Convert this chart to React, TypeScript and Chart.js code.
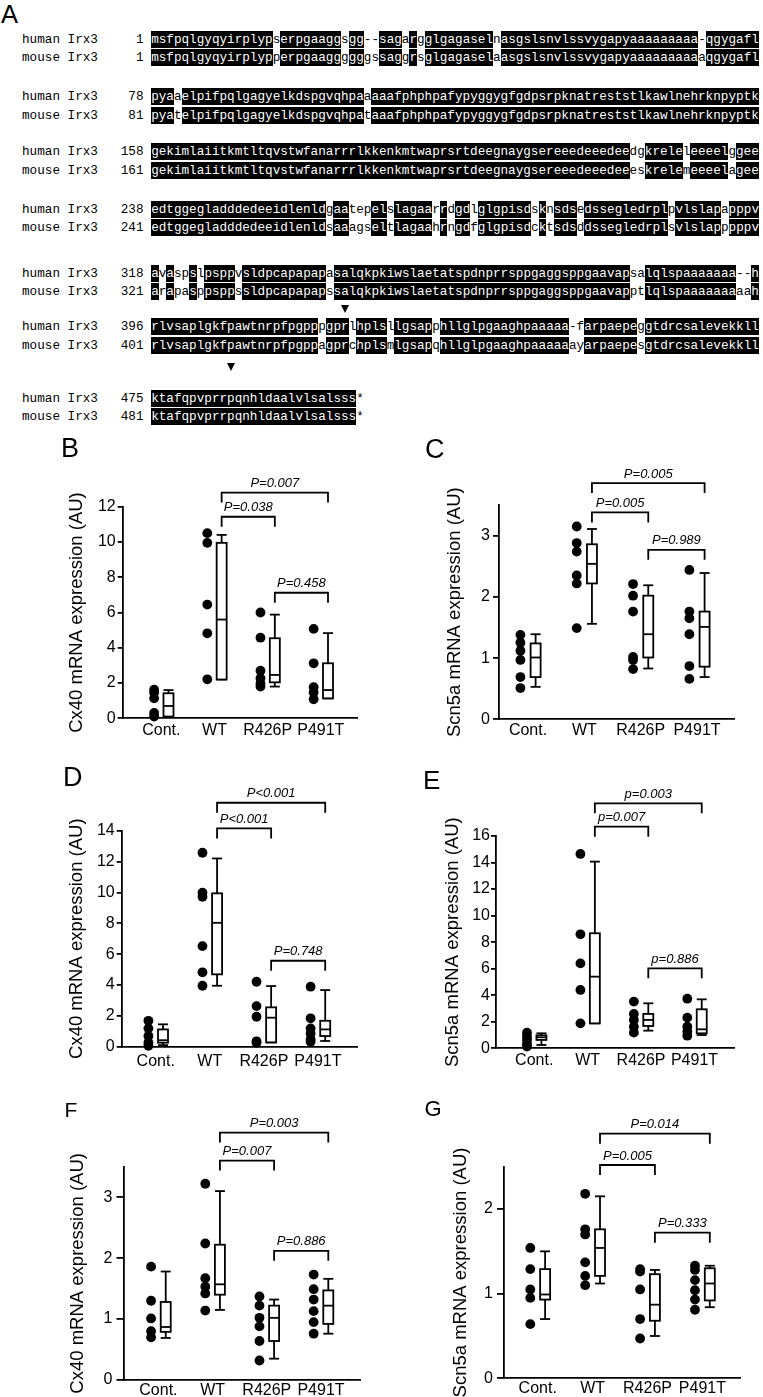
import React, { useEffect, useRef } from 'react';
import { Chart, registerables } from 'chart.js';

Chart.register(...registerables);

const SANS = '"Liberation Sans", Arial, Helvetica, sans-serif';
const MONO = '"Liberation Mono", "Courier New", monospace';

// ---------------- Panel A: alignment ----------------
const humanStarts = [1, 78, 158, 238, 318, 396, 475];
const mouseStarts = [1, 81, 161, 241, 321, 401, 481];
const humanRows = [
  ['msfpqlgyqyirplyp', 's', 'erpgaagg', 's', 'gg', '--', 'sagar', 'g', 'glgagasel', 'n', 'asgslsnvlssvygapy', 'aaaaaaaaa', '-', 'qgygafl'].join(''),
  ['pyaaelpifpqlgagyelkdspgvqhpa', 'aaaa', 'fphphpafypyggygfgdpsrpknatreststlkawlnehrknpyptk'].join(''),
  ['gekimlaiitkmtltqvstwfanarrrlkk', 'enkmtwaprsrtdeegnaygsereeedeeedee', 'dg', 'krele', 'l', 'eeeel', 'g', 'gee'].join(''),
  ['edtggegladddedeeidlenld', 'gaatepe', 'lslagaarrdgdlglgpisdsknsdsedssegledrplpvlslapapppv'].join(''),
  ['avaspslpsppvsldpcapapapasalqkp', 'kiwslaetatspdnprrsppgaggsppgaavap', 'sa', 'lqlspaaaaaaa', '--', 'h'].join(''),
  ['rlvsaplgkfpawtnrpfpgpppgprlhpl', 'sllgsapphllglpgaaghpaaaaa', '-', 'farpaepe', 'g', 'gtdrcsalevekkll'].join(''),
  'ktafqpvprrpqnhldaalvlsalsss*',
];
const mouseRows = [
  ['msfpqlgyqyirplyp', 'p', 'erpgaagg', 'g', 'gg', 'gs', 'saggr', 's', 'glgagasel', 'a', 'asgslsnvlssvygapy', 'aaaaaaaaaa', 'qgygafl'].join(''),
  ['pyatelpifpqlgagyelkdspgvqhpa', 'taaa', 'fphphpafypyggygfgdpsrpknatreststlkawlnehrknpyptk'].join(''),
  ['gekimlaiitkmtltqvstwfanarrrlkk', 'enkmtwaprsrtdeegnaygsereeedeeedee', 'es', 'krele', 'm', 'eeeel', 'a', 'gee'].join(''),
  ['edtggegladddedeeidlenld', 'saaagse', 'ltlagaahrngdfglgpisdcktsdsddssegledrpls', 'vlslap', 'p', 'pppv'].join(''),
  ['arapasppsppssldpcapapapssalqkp', 'kiwslaetatspdnprrsppgaggsppgaavap', 'pt', 'lqlspaaaaaaaaa', 'h'].join(''),
  ['rlvsaplgkfpawtnrpfpgppagprchpl', 'smlgsapqhllglpgaaghpaaaaa', 'a', 'yarpaepe', 's', 'gtdrcsalevekkll'].join(''),
  'ktafqpvprrpqnhldaalvlsalsss*',
];
// mutation sites: [row, column]
const markers = [[5, 25], [6, 10]];

// ---------------- Box plot panels ----------------
const categories = ['Cont.', 'WT', 'R426P', 'P491T'];

// boxes: [min, Q1, median, Q3, max]
const bDots = [
  [1.62, 1.45, 1.13, 0.3, 0.1],
  [10.5, 9.95, 6.45, 4.82, 2.21],
  [6.0, 4.57, 2.7, 2.27, 1.98, 1.8],
  [5.07, 3.12, 1.76, 1.46, 1.08],
];
const bBoxes = [
  [0.08, 0.1, 0.7, 1.42, 1.6],
  [2.2, 2.2, 5.6, 9.95, 10.4],
  [1.8, 2.04, 2.46, 4.54, 5.88],
  [1.13, 1.13, 1.6, 3.12, 4.83],
];
const bTicks = [0, 2, 4, 6, 8, 10, 12];
const bPairs: [number, number, number, string][] = [[1, 3, 12.8, 'P=0.007'], [1, 2, 11.43, 'P=0.038'], [2, 3, 7.12, 'P=0.458']];

const cDots = [
  [1.38, 1.25, 1.12, 0.97, 0.69, 0.51],
  [3.15, 2.88, 2.74, 2.35, 2.22, 1.49],
  [2.21, 2.02, 1.76, 1.02, 0.97, 0.82],
  [2.44, 1.76, 1.65, 1.39, 0.87, 0.66],
];
const cBoxes = [
  [0.53, 0.69, 1.01, 1.24, 1.39],
  [1.56, 2.22, 2.54, 2.86, 3.11],
  [0.83, 1.01, 1.39, 2.02, 2.19],
  [0.69, 0.86, 1.51, 1.76, 2.39],
];
const cTicks = [0, 1, 2, 3];
const cPairs: [number, number, number, string][] = [[1, 3, 3.86, 'P=0.005'], [1, 2, 3.38, 'P=0.005'], [2, 3, 2.77, 'P=0.989']];

const dDots = [
  [1.68, 1.19, 0.69, 0.26, 0.06],
  [12.57, 9.98, 9.72, 6.52, 4.82, 3.95],
  [4.21, 2.63, 1.94, 0.35, 0.25],
  [3.89, 1.84, 1.19, 0.86, 0.48, 0.32],
];
const dBoxes = [
  [0.1, 0.26, 0.42, 1.12, 1.45],
  [3.95, 4.69, 8.03, 9.94, 12.2],
  [0.28, 0.28, 1.88, 2.55, 3.93],
  [0.37, 0.69, 1.12, 1.68, 3.67],
];
const dTicks = [0, 2, 4, 6, 8, 10, 12, 14];
const dPairs: [number, number, number, string][] = [[1, 3, 15.81, 'P<0.001'], [1, 2, 14.15, 'P<0.001'], [2, 3, 5.57, 'P=0.748']];

const eDots = [
  [1.18, 0.88, 0.63, 0.33, 0.13],
  [14.65, 8.59, 6.4, 4.4, 1.88],
  [3.52, 2.59, 2.14, 1.63, 1.18],
  [3.74, 2.31, 1.63, 1.26, 0.95],
];
const eBoxes = [
  [0.25, 0.63, 0.83, 0.98, 1.13],
  [1.88, 1.88, 5.4, 8.67, 14.07],
  [1.33, 1.68, 2.14, 2.59, 3.39],
  [1.0, 1.13, 1.43, 2.94, 3.69],
];
const eTicks = [0, 2, 4, 6, 8, 10, 12, 14, 16];
const ePairs: [number, number, number, string][] = [[1, 3, 18.46, 'p=0.003'], [1, 2, 16.7, 'p=0.007'], [2, 3, 6.03, 'p=0.886']];

const fDots = [
  [1.86, 1.3, 1.01, 0.8, 0.7],
  [3.22, 2.24, 1.67, 1.53, 1.42, 1.14],
  [1.37, 1.22, 1.02, 0.88, 0.64, 0.32],
  [1.73, 1.49, 1.32, 1.13, 0.95, 0.76],
];
const fBoxes = [
  [0.69, 0.79, 0.87, 1.28, 1.78],
  [1.15, 1.4, 1.57, 2.22, 3.1],
  [0.35, 0.64, 1.02, 1.22, 1.32],
  [0.76, 0.92, 1.22, 1.47, 1.66],
];
const fTicks = [0, 1, 2, 3];
const fPairs: [number, number, number, string][] = [[1, 3, 4.06, 'P=0.003'], [1, 2, 3.6, 'P=0.007'], [2, 3, 2.12, 'P=0.886']];

const gDots = [
  [1.54, 1.29, 1.05, 0.95, 0.64],
  [2.18, 1.76, 1.7, 1.37, 1.21, 1.1],
  [1.29, 1.26, 1.05, 0.7, 0.47],
  [1.33, 1.28, 1.16, 1.04, 0.93, 0.81],
];
const gBoxes = [
  [0.7, 0.93, 0.99, 1.29, 1.5],
  [1.12, 1.21, 1.54, 1.76, 2.15],
  [0.5, 0.68, 0.87, 1.23, 1.28],
  [0.84, 0.92, 1.12, 1.3, 1.33],
];
const gTicks = [0, 1, 2];
const gPairs: [number, number, number, string][] = [[1, 3, 2.89, 'P=0.014'], [1, 2, 2.52, 'P=0.005'], [2, 3, 1.72, 'P=0.333']];

const CX40 = 'Cx40 mRNA expression (AU)';
const SCN5A = 'Scn5a mRNA expression (AU)';

type Geo = {
  l: number; t: number; w: number; h: number;
  al: number; ar: number; at: number; ab: number;
  xmin: number; xmax: number; titleX: number;
  xPad: number; tickLen: number; tickPad: number;
};
type Spec = {
  title: string; dots: number[][]; boxes: number[][]; ticks: number[]; yMax: number;
  pairs: [number, number, number, string][]; geo: Geo;
};

const panels: Spec[] = [
  { title: CX40, dots: bDots, boxes: bBoxes, ticks: bTicks, yMax: 12, pairs: bPairs,
    geo: { l: 0, t: 430, w: 380, h: 340, al: 122.7, ar: 357.3, at: 506.7, ab: 718.3, xmin: -0.726, xmax: 3.686, titleX: 76.7, xPad: 3, tickLen: 5, tickPad: 2 } },
  { title: SCN5A, dots: cDots, boxes: cBoxes, ticks: cTicks, yMax: 3.5, pairs: cPairs,
    geo: { l: 380, t: 430, w: 383, h: 340, al: 499, ar: 734, at: 505.1, ab: 719.3, xmin: -0.515, xmax: 3.657, titleX: 455, xPad: 2, tickLen: 6, tickPad: 3 } },
  { title: CX40, dots: dDots, boxes: dBoxes, ticks: dTicks, yMax: 14, pairs: dPairs,
    geo: { l: 0, t: 755, w: 380, h: 320, al: 121.7, ar: 357, at: 830.7, ab: 1046.7, xmin: -0.629, xmax: 3.723, titleX: 76.7, xPad: 5, tickLen: 5, tickPad: 2 } },
  { title: SCN5A, dots: eDots, boxes: eBoxes, ticks: eTicks, yMax: 16, pairs: ePairs,
    geo: { l: 380, t: 755, w: 383, h: 320, al: 496, ar: 734, at: 836, ab: 1048.3, xmin: -0.715, xmax: 3.739, titleX: 452.7, xPad: 2.5, tickLen: 5, tickPad: 1 } },
  { title: CX40, dots: fDots, boxes: fBoxes, ticks: fTicks, yMax: 3.5, pairs: fPairs,
    geo: { l: 0, t: 1065, w: 380, h: 332, al: 123.5, ar: 360, at: 1166.7, ab: 1380, xmin: -0.644, xmax: 3.72, titleX: 78.4, xPad: 0.5, tickLen: 7, tickPad: 4 } },
  { title: SCN5A, dots: gDots, boxes: gBoxes, ticks: gTicks, yMax: 2.5, pairs: gPairs,
    geo: { l: 380, t: 1065, w: 383, h: 332, al: 504, ar: 740, at: 1166.7, ab: 1378.3, xmin: -0.614, xmax: 3.685, titleX: 460.8, xPad: 1, tickLen: 7, tickPad: 4 } },
];

const panelLetters = [
  { ch: 'A', x: 1, y: 1.7, fs: 25.5 },
  { ch: 'B', x: 61, y: 434.5, fs: 27 },
  { ch: 'C', x: 425, y: 435.5, fs: 27 },
  { ch: 'D', x: 63, y: 763.5, fs: 27 },
  { ch: 'E', x: 423, y: 766.5, fs: 26 },
  { ch: 'F', x: 64.5, y: 1099, fs: 21 },
  { ch: 'G', x: 424.5, y: 1098, fs: 22 },
];

const DOT_OFF = 0.135;
const BOX_OFF = 0.135;
const BOX_W = 10;
const LW = 1.8;
const LEG = 10;
const TITLE_FS = 18.5;

function makeBoxPlugin(spec: Spec) {
  return {
    id: 'boxWhisker',
    afterDatasetsDraw(chart: any) {
      const { ctx } = chart;
      const x = chart.scales.x;
      const y = chart.scales.y;
      ctx.save();
      ctx.strokeStyle = '#000';
      ctx.lineWidth = LW;
      ctx.lineCap = 'butt';
      const hw = BOX_W / 2;
      const seg = (x1: number, y1: number, x2: number, y2: number) => {
        ctx.beginPath(); ctx.moveTo(x1, y1); ctx.lineTo(x2, y2); ctx.stroke();
      };
      spec.boxes.forEach((b, i) => {
        const cx = x.getPixelForValue(i + BOX_OFF);
        const [lo, q1, med, q3, hi] = b.map((v) => y.getPixelForValue(v));
        seg(cx, q3, cx, hi);
        seg(cx - hw, hi, cx + hw, hi);
        seg(cx, q1, cx, lo);
        seg(cx - hw, lo, cx + hw, lo);
        ctx.fillStyle = '#fff';
        ctx.fillRect(cx - hw, q3, BOX_W, q1 - q3);
        ctx.strokeRect(cx - hw, q3, BOX_W, q1 - q3);
        seg(cx - hw, med, cx + hw, med);
      });
      ctx.font = `italic 13px ${SANS}`;
      ctx.textAlign = 'center';
      ctx.textBaseline = 'alphabetic';
      spec.pairs.forEach(([a, b, level, label]) => {
        const x1 = x.getPixelForValue(a + BOX_OFF);
        const x2 = x.getPixelForValue(b + BOX_OFF);
        const yy = y.getPixelForValue(level);
        ctx.beginPath();
        ctx.moveTo(x1, yy + LEG);
        ctx.lineTo(x1, yy);
        ctx.lineTo(x2, yy);
        ctx.lineTo(x2, yy + LEG);
        ctx.stroke();
        ctx.fillStyle = '#000';
        ctx.fillText(label, (x1 + x2) / 2, yy - 5.5);
      });
      ctx.restore();
    },
  };
}

function BoxPanel({ spec }: { spec: Spec }) {
  const ref = useRef<HTMLCanvasElement | null>(null);
  const g = spec.geo;
  useEffect(() => {
    if (!ref.current) return;
    const points = spec.dots.flatMap((arr, i) => arr.map((v) => ({ x: i - DOT_OFF, y: v })));
    const lh = TITLE_FS * 1.2;
    const chart = new Chart(ref.current, {
      type: 'scatter',
      data: {
        datasets: [
          {
            data: points,
            pointRadius: 4.9,
            pointHoverRadius: 4.9,
            pointBackgroundColor: '#000',
            pointBorderWidth: 0,
            clip: false,
          } as any,
        ],
      },
      options: {
        animation: false,
        responsive: false,
        maintainAspectRatio: false,
        devicePixelRatio: 1,
        events: [],
        layout: { padding: { left: 0, top: g.at - g.t, right: g.l + g.w - g.ar, bottom: 0 } },
        plugins: { legend: { display: false }, tooltip: { enabled: false } },
        scales: {
          x: {
            type: 'linear',
            min: g.xmin,
            max: g.xmax,
            afterBuildTicks: (s: any) => { s.ticks = categories.map((_, i) => ({ value: i })); },
            afterFit: (s: any) => { s.height = g.t + g.h - g.ab; },
            ticks: {
              callback: (v: any) => categories[Math.round(Number(v))],
              color: '#000',
              font: { family: SANS, size: 16 },
              padding: g.xPad,
              maxRotation: 0,
              autoSkip: false,
            },
            grid: { display: false, drawTicks: false },
            border: { display: true, color: '#000', width: LW },
          },
          y: {
            type: 'linear',
            min: 0,
            max: spec.yMax,
            afterBuildTicks: (s: any) => { s.ticks = spec.ticks.map((v) => ({ value: v })); },
            afterFit: (s: any) => { s.width = g.al - g.l; },
            ticks: {
              callback: (v: any) => String(v),
              color: '#000',
              font: { family: SANS, size: 16 },
              padding: g.tickPad,
            },
            grid: { display: true, drawOnChartArea: false, drawTicks: true, tickLength: g.tickLen, color: '#000', lineWidth: LW },
            border: { display: true, color: '#000', width: LW },
            title: {
              display: true,
              text: spec.title,
              color: '#000',
              font: { family: SANS, size: TITLE_FS },
              padding: { top: g.titleX - g.l - lh / 2, bottom: 0 },
            },
          },
        },
      } as any,
      plugins: [makeBoxPlugin(spec) as any],
    });
    return () => chart.destroy();
  }, []);
  return (
    <canvas
      ref={ref}
      width={g.w}
      height={g.h}
      style={{ position: 'absolute', left: g.l, top: g.t, width: g.w, height: g.h }}
    />
  );
}

const SEQ_LEFT = 22;
const MONO_FS = 12.667;
const ROW_PITCH = 18.3;
const BOX_H = 17;
const rowCenters = [39.5, 96.7, 151.7, 209, 273.3, 326.7, 398.3];
const CHAR_W = 7.6;
const PREFIX_LEN = 17;

function SeqLine({ name, start, seq, other, cy }: { name: string; start: number; seq: string; other: string; cy: number }) {
  const prefix = name.padEnd(10) + String(start).padStart(6) + ' ';
  const runs: { text: string; hi: boolean }[] = [];
  for (let i = 0; i < seq.length; i++) {
    const c = seq[i];
    const hi = c !== '-' && c !== '*' && c === other[i];
    const last = runs[runs.length - 1];
    if (last && last.hi === hi) last.text += c;
    else runs.push({ text: c, hi });
  }
  const cell: React.CSSProperties = { display: 'inline-block', verticalAlign: 'top', height: BOX_H, lineHeight: `${BOX_H}px` };
  return (
    <div
      style={{
        position: 'absolute', left: SEQ_LEFT, top: cy - BOX_H / 2, height: BOX_H, whiteSpace: 'pre',
        fontFamily: MONO, fontSize: MONO_FS, lineHeight: `${BOX_H}px`, color: '#000',
      }}
    >
      <span style={cell}>{prefix}</span>
      {runs.map((r, k) => (
        <span key={k} style={{ ...cell, background: r.hi ? '#000' : 'transparent', color: r.hi ? '#fff' : '#000' }}>{r.text}</span>
      ))}
    </div>
  );
}

function Alignment() {
  return (
    <>
      {humanRows.map((h, r) => (
        <React.Fragment key={r}>
          <SeqLine name="human Irx3" start={humanStarts[r]} seq={h} other={mouseRows[r]} cy={rowCenters[r]} />
          <SeqLine name="mouse Irx3" start={mouseStarts[r]} seq={mouseRows[r]} other={h} cy={rowCenters[r] + ROW_PITCH} />
        </React.Fragment>
      ))}
      {markers.map(([r, c], k) => (
        <div
          key={k}
          style={{
            position: 'absolute',
            left: SEQ_LEFT + (PREFIX_LEN + c) * CHAR_W + CHAR_W / 2 - 4.5,
            top: (r === 5 ? rowCenters[r] - 21.5 : rowCenters[r] - 35.5),
            width: 0, height: 0,
            borderLeft: '4.5px solid transparent', borderRight: '4.5px solid transparent', borderTop: '8px solid #000',
          }}
        />
      ))}
    </>
  );
}

export default function App() {
  useEffect(() => {
    document.body.style.margin = '0';
  }, []);
  return (
    <div style={{ position: 'absolute', left: 0, top: 0, width: 763, height: 1397, overflow: 'hidden', background: '#fff' }}>
      <Alignment />
      {panels.map((p, i) => (
        <BoxPanel key={i} spec={p} />
      ))}
      {panelLetters.map((L) => (
        <div
          key={L.ch}
          style={{ position: 'absolute', left: L.x, top: L.y, fontFamily: SANS, fontSize: L.fs, lineHeight: 1, color: '#000' }}
        >
          {L.ch}
        </div>
      ))}
    </div>
  );
}
